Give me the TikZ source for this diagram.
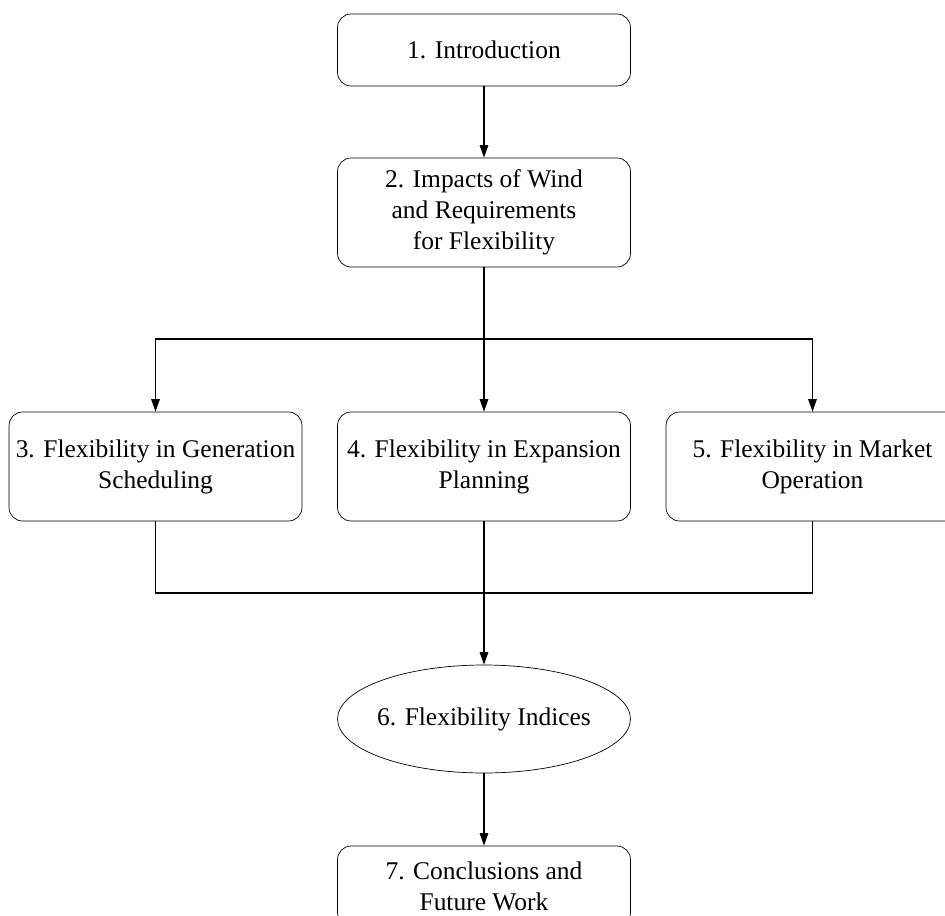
\documentclass[tikz,border=0pt]{standalone}
\usepackage{fontspec}
\setmainfont{Liberation Serif}
\usepackage{tikz}
\usetikzlibrary{shapes.geometric, arrows.meta, positioning, calc}

\begin{document}
\begin{tikzpicture}[
    x=0.02cm, y=-0.02cm,
    chapter/.style={rectangle, draw, rounded corners=0.27cm, minimum width=5.86cm, minimum height=2.18cm, inner sep=2pt, align=center, font=\fontsize{14.5}{17.6}\selectfont},
    shortbox/.style={chapter, minimum height=1.44cm},
    oval/.style={ellipse, draw, minimum width=5.86cm, minimum height=2.16cm, inner xsep=-6pt, inner ysep=0pt, align=center, font=\fontsize{14.5}{17.6}\selectfont},
    arr/.style={-{Triangle[length=2.5mm, width=1.7mm]}, line width=0.75pt},
    link/.style={line width=0.75pt}
]
\useasboundingbox (0,0) rectangle (945,915);
\clip (0,0) rectangle (945,915);

\node[shortbox] (intro) at (484,50) {1. Introduction};
\node[chapter] (impacts) at (484,212.5) {2. Impacts of Wind\\and Requirements\\for Flexibility};
\node[chapter] (gensched) at (155.5,466.5) {3. Flexibility in Generation\\Scheduling};
\node[chapter] (expplan) at (484,466.5) {4. Flexibility in Expansion\\Planning};
\node[chapter] (market) at (812.5,466.5) {5. Flexibility in Market\\Operation};
\node[oval] (indices) at (484,719) {6. Flexibility Indices};
\node[shortbox, minimum height=1.6cm] (concl) at (484,886) {7. Conclusions and\\Future Work};

% junction points
\coordinate (split) at (484,339);
\coordinate (merge) at (484,593);

\draw[arr] (intro) -- (impacts);
\draw[arr] (impacts) -- (expplan);
\draw[arr] (split) -| (gensched.north);
\draw[arr] (split) -| (market.north);
\draw[link] (gensched.south) |- (merge);
\draw[link] (market.south) |- (merge);
\draw[arr] (expplan) -- (indices);
\draw[arr] (indices) -- (concl);
\end{tikzpicture}
\end{document}
